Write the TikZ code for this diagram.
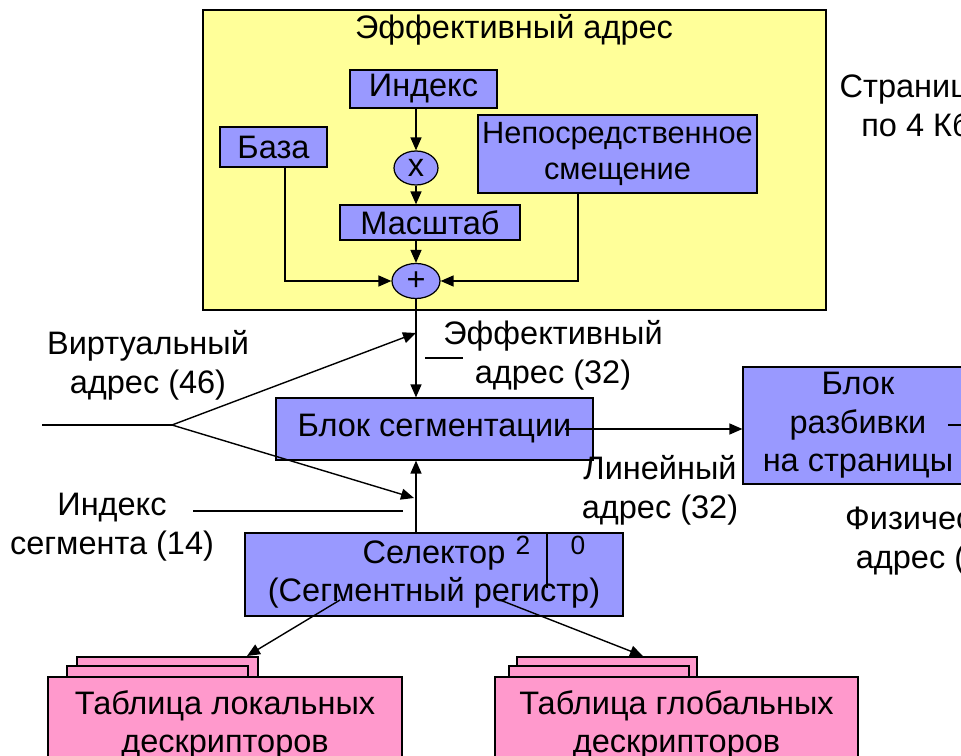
\documentclass[tikz,border=0pt]{standalone}
\usepackage{fontspec}
\setmainfont{Liberation Sans}
\usepackage{xcolor}
\usetikzlibrary{positioning,arrows.meta,shapes.geometric}
\definecolor{blockblue}{HTML}{9999FF}
\definecolor{areayellow}{HTML}{FFFF99}
\definecolor{tablepink}{HTML}{FF99CC}

\begin{document}
\begin{tikzpicture}[
  x=0.02cm, y=-0.02cm,
  font=\fontsize{18.5}{22}\selectfont,
  box/.style={draw, fill=blockblue, align=center, inner sep=0pt, line width=0.7pt},
  op/.style={draw, fill=blockblue, ellipse, inner sep=0pt, line width=0.7pt},
  area/.style={draw, fill=areayellow, inner sep=0pt, line width=0.7pt},
  sheet/.style={draw, fill=tablepink, inner sep=0pt, line width=0.7pt},
  tbl/.style={sheet, align=center},
  lbl/.style={align=center, inner sep=0pt},
  bit/.style={inner sep=0pt, font=\fontsize{15}{17}\selectfont},
  wire/.style={line width=0.8pt},
  arr/.style={-{Triangle[length=2.6mm,width=2.2mm]}, line width=0.8pt}]

\useasboundingbox (0,0) rectangle (961,756);
\clip (0,0) rectangle (961,756);

% effective address unit
\node[area, minimum width=12.46cm, minimum height=6cm] (eff) at (514.5,160) {};
\node[lbl] (efftitle) at (514,30) {Эффективный адрес};
\node[box, minimum width=2.94cm, minimum height=0.76cm] (index) at (423.5,89) {Индекс};
\node[box, minimum width=2.14cm, minimum height=0.8cm] (baza) at (273.5,147) {База};
\node[op, minimum width=0.88cm, minimum height=0.68cm] (mul) at (416,168) {x};
\node[box, minimum width=5.58cm, minimum height=1.56cm, font=\fontsize{17.5}{21}\selectfont] (imm) at (617.5,154) {Непосредственное\\смещение};
\node[box, minimum width=3.6cm, minimum height=0.7cm] (scale) at (430,222.5) {Масштаб};
\node[op, minimum width=0.96cm, minimum height=0.7cm] (plus) at (416,281) {+};

\draw[arr] (index.south -| mul) -- (mul.north);
\draw[arr] (mul.south) -- (mul.south |- scale.north);
\draw[arr] (scale.south -| plus) -- (plus.north);
\draw[arr] ([xshift=0.23cm]baza.south) |- (plus.west);
\draw[arr] ([xshift=-0.79cm]imm.south) |- (plus.east);

% segmentation
\node[box, minimum width=6.34cm, minimum height=1.24cm] (seg) at (434.5,429) {Блок сегментации};
\node[box, minimum width=4.6cm, minimum height=2.34cm] (page) at (858,425.5) {Блок\\разбивки\\на страницы};
\node[box, minimum width=7.56cm, minimum height=1.66cm] (sel) at (434,574.5) {Селектор\\(Сегментный регистр)};
\draw[line width=0.7pt] (547,533) -- (547,588);
\node[bit] (bit2) at (523,545) {2};
\node[bit] (bit0) at (578,545) {0};

\draw[arr] (plus.south) -- (plus.south |- seg.north);
\draw[arr] (sel.north -| plus) -- (seg.south -| plus);

\coordinate (vin) at (42,425);
\coordinate (vfork) at (172,425);
\coordinate (vtop) at (416,333);
\coordinate (vbot) at (414,498);
\draw[wire] (vin) -- (vfork);
\draw[arr] (vfork) -- (vtop);
\draw[arr] (vfork) -- (vbot);

\coordinate (ixa) at (193,511);
\coordinate (ixb) at (403,511);
\draw[wire] (ixa) -- (ixb);

\coordinate (eda) at (425,358);
\coordinate (edb) at (463,358);
\draw[wire] (eda) -- (edb);

\coordinate (lin) at (565,429);
\draw[arr] (lin) -- (lin -| page.west);

\coordinate (pda) at (948,425);
\coordinate (pdb) at (961,425);
\draw[wire] (pda) -- (pdb);

% labels
\node[lbl] (efflbl) at (553,355) {Эффективный\\адрес (32)};
\node[lbl] (virtlbl) at (148,365) {Виртуальный\\адрес (46)};
\node[lbl] (idxlbl) at (112,527) {Индекс\\сегмента (14)};
\node[lbl] (linlbl) at (660,490) {Линейный\\адрес (32)};
\node[lbl] (physlbl) at (934,540) {Физический\\адрес (32)};
\node[lbl] (pglbl) at (916,106) {Страницы\\по 4 Кб};

% descriptor tables
\draw[sheet] (77,657) rectangle (258,700);
\draw[sheet] (67,666) rectangle (248,700);
\node[tbl, minimum width=7.08cm, minimum height=1.92cm] (ldt) at (225,725) {Таблица локальных\\дескрипторов};
\draw[sheet] (517,657) rectangle (697,700);
\draw[sheet] (509,666) rectangle (689,700);
\node[tbl, minimum width=7.26cm, minimum height=1.92cm] (gdt) at (676.5,725) {Таблица глобальных\\дескрипторов};

\coordinate (sla) at (340,600);
\coordinate (slb) at (247,656);
\coordinate (sga) at (500,600);
\coordinate (sgb) at (643,656);
\draw[arr] (sla) -- (slb);
\draw[arr] (sga) -- (sgb);
\end{tikzpicture}
\end{document}
